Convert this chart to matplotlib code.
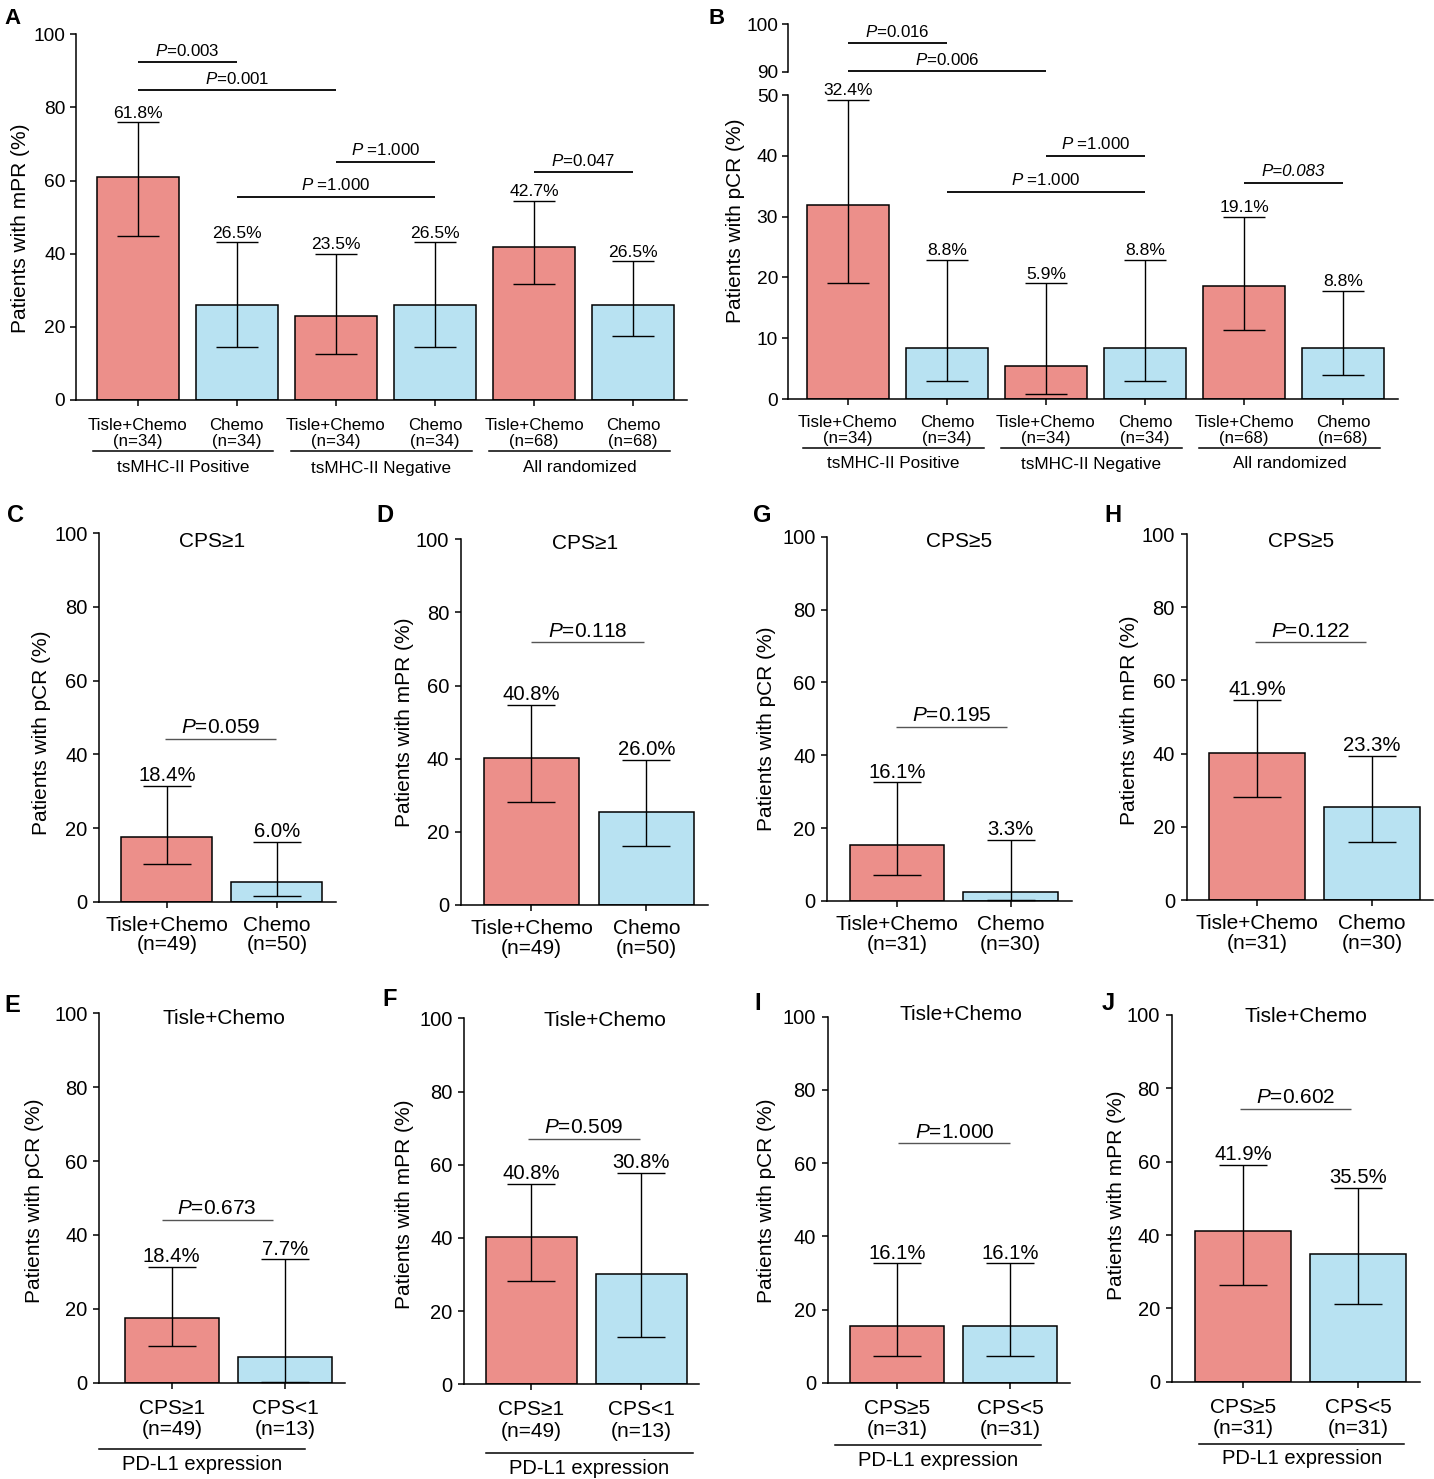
import numpy as np
import matplotlib
matplotlib.use('Agg')
import matplotlib.pyplot as plt

plt.rcParams['font.family'] = ['Liberation Sans', 'DejaVu Sans']
plt.rcParams['mathtext.fontset'] = 'custom'
plt.rcParams['mathtext.rm'] = 'Liberation Sans'
plt.rcParams['mathtext.it'] = 'Liberation Sans:italic'

W, H = 1434, 1479
RED, BLUE = '#EC8F8A', '#B8E2F2'
PI = r'$\mathit{P}$'

# ── Panel A: mPR by tsMHC-II ────────────────────────────────────────────────
A_ticks = ['Tisle+Chemo\n(n=34)', 'Chemo\n(n=34)', 'Tisle+Chemo\n(n=34)',
           'Chemo\n(n=34)', 'Tisle+Chemo\n(n=68)', 'Chemo\n(n=68)']
A_vals = [61.0, 25.9, 22.9, 25.9, 41.9, 25.9]
A_hi = [75.9, 43.1, 39.9, 43.1, 54.5, 37.9]
A_lo = [44.9, 14.6, 12.5, 14.6, 31.6, 17.4]
A_pct = ['61.8%', '26.5%', '23.5%', '26.5%', '42.7%', '26.5%']
A_groups = ['tsMHC-II Positive', 'tsMHC-II Negative', 'All randomized']
A_br_x0 = [0, 0, 2, 1, 4]
A_br_x1 = [1, 2, 3, 3, 5]
A_br_y = [92.3, 84.7, 65.2, 55.5, 62.3]
A_br_txt = [PI + '=0.003', PI + '=0.001', PI + ' =1.000', PI + ' =1.000', PI + '=0.047']

# ── Panel B: pCR by tsMHC-II (broken axis) ──────────────────────────────────
B_ticks = A_ticks
B_vals = [31.9, 8.4, 5.4, 8.4, 18.6, 8.4]
B_hi = [49.2, 22.9, 19.0, 22.9, 29.9, 17.8]
B_lo = [19.0, 3.0, 0.9, 3.0, 11.4, 4.0]
B_pct = ['32.4%', '8.8%', '5.9%', '8.8%', '19.1%', '8.8%']
B_groups = A_groups
B_up_x0, B_up_x1, B_up_y = [0, 0], [1, 2], [96.0, 90.1]
B_up_txt = [PI + '=0.016', PI + '=0.006']
B_lo_x0, B_lo_x1, B_lo_y = [2, 1, 4], [3, 3, 5], [40.0, 34.1, 35.6]
B_lo_txt = [PI + ' =1.000', PI + ' =1.000', 'P=0.083']

# ── Small panels ────────────────────────────────────────────────────────────
C_ticks = ['Tisle+Chemo\n(n=49)', 'Chemo\n(n=50)']
C_vals, C_hi, C_lo = [17.6, 5.4], [31.4, 16.2], [10.1, 1.6]
C_pct, C_p, C_py = ['18.4%', '6.0%'], PI + '=0.059', 44.2

D_ticks = ['Tisle+Chemo\n(n=49)', 'Chemo\n(n=50)']
D_vals, D_hi, D_lo = [40.1, 25.3], [54.7, 39.7], [28.3, 16.0]
D_pct, D_p, D_py = ['40.8%', '26.0%'], PI + '=0.118', 71.8

G_ticks = ['Tisle+Chemo\n(n=31)', 'Chemo\n(n=30)']
G_vals, G_hi, G_lo = [15.4, 2.6], [32.6, 16.7], [7.1, 0.4]
G_pct, G_p, G_py = ['16.1%', '3.3%'], PI + '=0.195', 47.9

H_ticks = ['Tisle+Chemo\n(n=31)', 'Chemo\n(n=30)']
H_vals, H_hi, H_lo = [40.1, 25.3], [54.6, 39.4], [28.2, 15.8]
H_pct, H_p, H_py = ['41.9%', '23.3%'], PI + '=0.122', 70.4

E_ticks = ['CPS≥1\n(n=49)', 'CPS<1\n(n=13)']
E_vals, E_hi, E_lo = [17.6, 7.0], [31.4, 33.4], [9.9, 0.3]
E_pct, E_p, E_py = ['18.4%', '7.7%'], PI + '=0.673', 44.0

F_ticks = ['CPS≥1\n(n=49)', 'CPS<1\n(n=13)']
F_vals, F_hi, F_lo = [40.2, 30.1], [54.7, 57.7], [28.2, 12.8]
F_pct, F_p, F_py = ['40.8%', '30.8%'], PI + '=0.509', 67.0

I_ticks = ['CPS≥5\n(n=31)', 'CPS<5\n(n=31)']
I_vals, I_hi, I_lo = [15.5, 15.5], [32.6, 32.6], [7.3, 7.3]
I_pct, I_p, I_py = ['16.1%', '16.1%'], PI + '=1.000', 65.4

J_ticks = ['CPS≥5\n(n=31)', 'CPS<5\n(n=31)']
J_vals, J_hi, J_lo = [41.2, 34.7], [59.1, 52.9], [26.4, 21.1]
J_pct, J_p, J_py = ['41.9%', '35.5%'], PI + '=0.602', 74.5

fig = plt.figure(figsize=(W / 100, H / 100), dpi=100)


def px_axes(x0, x1, ytop, ybot):
    return fig.add_axes([x0 / W, 1 - ybot / H, (x1 - x0) / W, (ybot - ytop) / H])


def fig_text(x, y, s, **kw):
    fig.text(x / W, 1 - y / H, s, ha='center', va='center', **kw)


def style(ax, ylim, yticks, fs, xlim, ypad):
    for s in ['top', 'right']:
        ax.spines[s].set_visible(False)
    for s in ['left', 'bottom']:
        ax.spines[s].set_linewidth(1.1)
    ax.set_xlim(*xlim)
    ax.set_ylim(*ylim)
    ax.set_yticks(yticks)
    ax.tick_params(length=4.5, width=1.1, labelsize=fs)
    ax.tick_params(axis='y', pad=ypad)


def draw_bars(ax, vals, lo, hi, pct, capsize, fs, off):
    x = np.arange(len(vals))
    v = np.array(vals)
    cols = [RED if i % 2 == 0 else BLUE for i in x]
    ax.bar(x, v, width=0.83, color=cols, edgecolor='black', linewidth=1.1, zorder=2)
    ax.errorbar(x, v, yerr=[v - np.array(lo), np.array(hi) - v], fmt='none',
                ecolor='black', elinewidth=1.0, capsize=capsize, capthick=1.0, zorder=3)
    for xi, h, t in zip(x, hi, pct):
        ax.annotate(t, (xi, h), xytext=(0, off), textcoords='offset points',
                    ha='center', va='baseline', fontsize=fs, annotation_clip=False)


def bracket(ax, x0, x1, y, txt, fs, off, lw, color, fstyle='normal'):
    ax.plot([x0, x1], [y, y], color=color, lw=lw, clip_on=False, solid_capstyle='butt')
    ax.annotate(txt, ((x0 + x1) / 2, y), xytext=(0, off), textcoords='offset points',
                ha='center', va='baseline', fontsize=fs, fontstyle=fstyle,
                annotation_clip=False)


def group_under(ax, ytop, ybot, x0, x1, yline, ytext, label, fs):
    tr = ax.get_xaxis_transform()
    fl = (ybot - yline) / (ybot - ytop)
    ft = (ybot - ytext) / (ybot - ytop)
    ax.plot([x0, x1], [fl, fl], color='black', lw=1.1, transform=tr, clip_on=False)
    ax.text((x0 + x1) / 2, ft, label, transform=tr, ha='center', va='center', fontsize=fs)


# ── A ──
axA = px_axes(75.7, 686.7, 34.3, 400)
draw_bars(axA, A_vals, A_lo, A_hi, A_pct, 14.8, 12.6, 3.5)
style(axA, (0, 100), [0, 20, 40, 60, 80, 100], 13.8, (-0.625, 5.54), 3)
axA.set_xticks(range(6))
axA.set_xticklabels(A_ticks, fontsize=12.2, linespacing=1.1)
axA.tick_params(axis='x', pad=8.2)
for x0, x1, y, t in zip(A_br_x0, A_br_x1, A_br_y, A_br_txt):
    bracket(axA, x0, x1, y, t, 12.2, 4.8, 1.3, 'black')
for g, lab in enumerate(A_groups):
    group_under(axA, 34.3, 400, 2 * g - 0.45, 2 * g + 1.37, 450.7, 468, lab, 12.3)
fig_text(20.6, 228, 'Patients with mPR (%)', rotation=90, fontsize=15)
fig_text(13, 18, 'A', fontsize=16, fontweight='bold')

# ── B ──
axB = px_axes(788.4, 1397.6, 95, 399)
draw_bars(axB, B_vals, B_lo, B_hi, B_pct, 14.8, 12.6, 3.5)
style(axB, (0, 50), [0, 10, 20, 30, 40, 50], 13.8, (-0.6, 5.55), 3)
axB.set_xticks(range(6))
axB.set_xticklabels(B_ticks, fontsize=12.2, linespacing=1.1)
axB.tick_params(axis='x', pad=6.8)
for x0, x1, y, t in zip(B_lo_x0, B_lo_x1, B_lo_y, B_lo_txt):
    fst = 'italic' if '$' not in t else 'normal'
    bracket(axB, x0, x1, y, t, 12.2, 4.8, 1.3, 'black', fst)
for g, lab in enumerate(B_groups):
    group_under(axB, 95, 399, 2 * g - 0.45, 2 * g + 1.37, 447.7, 464, lab, 12.3)

axBu = px_axes(788.4, 1397.6, 24.3, 71.7)
style(axBu, (90, 100), [90, 100], 13.8, (-0.6, 5.55), 3)
axBu.spines['bottom'].set_visible(False)
axBu.set_xticks([])
axBu.patch.set_alpha(0)
for x0, x1, y, t in zip(B_up_x0, B_up_x1, B_up_y, B_up_txt):
    bracket(axBu, x0, x1, y, t, 12.2, 4.8, 1.3, 'black')
fig_text(735.6, 221, 'Patients with pCR (%)', rotation=90, fontsize=15)
fig_text(717, 18, 'B', fontsize=16, fontweight='bold')


# ── small panels ──
def small_panel(box, xlim, ticks, vals, lo, hi, pct, ptxt, py, pxr, title, txy,
                ylab, lab_xy, letter, let_xy, group=None):
    x0, x1, ytop, ybot = box
    ax = px_axes(x0, x1, ytop, ybot)
    draw_bars(ax, vals, lo, hi, pct, 17, 14.6, 3.4)
    style(ax, (0, 100), [0, 20, 40, 60, 80, 100], 14.5, xlim, 4)
    ax.set_xticks([0, 1])
    if group is None:
        ax.set_xticklabels(ticks, fontsize=15, linespacing=1.05)
        ax.tick_params(axis='x', pad=5.6)
    else:
        ax.set_xticklabels(ticks, fontsize=15, linespacing=1.17)
        ax.tick_params(axis='x', pad=7)
    bracket(ax, pxr[0], pxr[1], py, ptxt, 15, 4.2, 1.0, '#555555')
    ax.text(txy[0], txy[1], title, ha='center', va='center', fontsize=15)
    fig_text(lab_xy[0], lab_xy[1], ylab, rotation=90, fontsize=15)
    fig_text(let_xy[0], let_xy[1], letter, fontsize=17, fontweight='bold')
    if group is not None:
        gx0, gx1, gl, gt = group
        group_under(ax, ytop, ybot, gx0, gx1, gl, gt, 'PD-L1 expression', 14.5)
    return ax


PCR = 'Patients with pCR (%)'
MPR = 'Patients with mPR (%)'

small_panel((99.3, 335.7, 533.3, 901.7), (-0.614, 1.535), C_ticks, C_vals, C_lo, C_hi,
            C_pct, C_p, C_py, (-0.02, 0.99), 'CPS≥1', (0.41, 97.7), PCR, (41.7, 733),
            'C', (16, 516))
small_panel((461, 707.7, 539.3, 905), (-0.614, 1.535), D_ticks, D_vals, D_lo, D_hi,
            D_pct, D_p, D_py, (0.0, 0.98), 'CPS≥1', (0.47, 98.9), MPR, (405, 722),
            'D', (385, 515))
small_panel((827.3, 1071.7, 536.7, 901), (-0.613, 1.537), G_ticks, G_vals, G_lo, G_hi,
            G_pct, G_p, G_py, (-0.01, 0.97), 'CPS≥5', (0.55, 98.6), PCR, (766.7, 729),
            'G', (762, 516))
small_panel((1186.7, 1433, 534, 900), (-0.61, 1.53), H_ticks, H_vals, H_lo, H_hi,
            H_pct, H_p, H_py, (-0.02, 0.95), 'CPS≥5', (0.38, 97.9), MPR, (1129.3, 720),
            'H', (1113, 516))
small_panel((99.3, 345, 1013.3, 1382.7), (-0.64, 1.53), E_ticks, E_vals, E_lo, E_hi,
            E_pct, E_p, E_py, (-0.09, 0.89), 'Tisle+Chemo', (0.46, 98.7), PCR, (35, 1201),
            'E', (12, 1005), group=(-0.64, 1.18, 1449.3, 1465))
small_panel((464.3, 699.3, 1018.3, 1384.3), (-0.61, 1.53), F_ticks, F_vals, F_lo, F_hi,
            F_pct, F_p, F_py, (-0.03, 0.99), 'Tisle+Chemo', (0.67, 99.5), MPR, (405, 1204),
            'F', (390, 1000), group=(-0.41, 1.47, 1452.7, 1468))
small_panel((827.7, 1070, 1016.7, 1382.7), (-0.616, 1.528), I_ticks, I_vals, I_lo, I_hi,
            I_pct, I_p, I_py, (0.01, 1.0), 'Tisle+Chemo', (0.56, 100.5), PCR, (766.7, 1201),
            'I', (758, 1003), group=(-0.55, 1.27, 1445, 1460))
small_panel((1171.7, 1420, 1015, 1381.7), (-0.619, 1.536), J_ticks, J_vals, J_lo, J_hi,
            J_pct, J_p, J_py, (-0.03, 0.94), 'Tisle+Chemo', (0.55, 99.5), MPR, (1116.7, 1195),
            'J', (1108, 1003), group=(-0.38, 1.40, 1444, 1458))

fig.savefig('out.png', dpi=100)
